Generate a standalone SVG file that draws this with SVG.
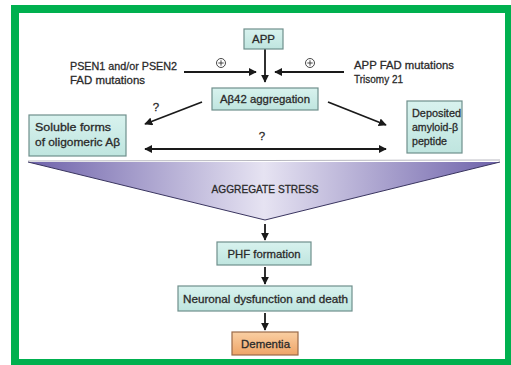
<svg xmlns="http://www.w3.org/2000/svg" width="511" height="365" viewBox="0 0 511 365">
<defs>
<style>
.box{fill:url(#teal);stroke:#6f8f8c;stroke-width:1.2}
.t{font-family:"Liberation Sans",Arial,sans-serif;font-size:11.5px;fill:#2a2a2a;stroke:#2a2a2a;stroke-width:0.3}
.c{text-anchor:middle}
.ln{stroke:#1a1a1a;stroke-width:1.8;fill:none}
.plus{fill:#fff;stroke:#333;stroke-width:0.9}
</style>
<linearGradient id="teal" x1="0" y1="0" x2="0" y2="1">
<stop offset="0" stop-color="#d8f2ee"/>
<stop offset="1" stop-color="#bfe5df"/>
</linearGradient>
<linearGradient id="orange" x1="0" y1="0" x2="0" y2="1">
<stop offset="0" stop-color="#f9cfa3"/>
<stop offset="1" stop-color="#efa467"/>
</linearGradient>
<linearGradient id="purple" x1="0" y1="0" x2="1" y2="0">
<stop offset="0" stop-color="#6e62aa"/>
<stop offset="0.5" stop-color="#e6e3f2"/>
<stop offset="1" stop-color="#6e62aa"/>
</linearGradient>
<marker id="ah" viewBox="0 0 10 10" refX="9" refY="5" markerWidth="4.5" markerHeight="4.5" orient="auto-start-reverse" markerUnits="strokeWidth">
<path d="M0,0 L10,5 L0,10 z" fill="#1a1a1a"/>
</marker>
</defs>
<rect x="0" y="0" width="511" height="365" fill="#ffffff"/>
<rect x="11" y="5" width="505" height="365" fill="#00b04f"/>
<rect x="19" y="13" width="486" height="346" fill="#ffffff"/>

<g id="stress">
<line x1="28" y1="161" x2="500" y2="160" stroke="#b8b8c0" stroke-width="1.2"/>
<path d="M28,162 L500,162 L265,220 Z" fill="url(#purple)"/>
<path d="M28,162 L265,220 L500,162" fill="none" stroke="#3a3560" stroke-width="1"/>
<text class="t c" x="265" y="193" textLength="107" lengthAdjust="spacingAndGlyphs">AGGREGATE STRESS</text>
</g>

<g id="connectors">
<line class="ln" x1="265" y1="49" x2="265" y2="82" marker-end="url(#ah)"/>
<line class="ln" x1="184" y1="72" x2="256" y2="72" marker-end="url(#ah)"/>
<line class="ln" x1="344" y1="72" x2="275" y2="72" marker-end="url(#ah)"/>
<line class="ln" x1="202" y1="102" x2="145" y2="124" marker-end="url(#ah)"/>
<line class="ln" x1="328" y1="102" x2="386" y2="125" marker-end="url(#ah)"/>
<line class="ln" x1="145" y1="149" x2="386" y2="149" marker-start="url(#ah)" marker-end="url(#ah)"/>
<line class="ln" x1="265" y1="224" x2="265" y2="240" marker-end="url(#ah)"/>
<line class="ln" x1="265" y1="267" x2="265" y2="284" marker-end="url(#ah)"/>
<line class="ln" x1="265" y1="313" x2="265" y2="330" marker-end="url(#ah)"/>
<circle class="plus" cx="221" cy="63" r="4.5"/>
<path d="M218.3,63 h5.4 M221,60.3 v5.4" stroke="#333" stroke-width="0.9"/>
<circle class="plus" cx="310" cy="63" r="4.5"/>
<path d="M307.3,63 h5.4 M310,60.3 v5.4" stroke="#333" stroke-width="0.9"/>
<text class="t c" x="156" y="111">?</text>
<text class="t c" x="262" y="140">?</text>
</g>

<g id="psen">
<text class="t" x="70" y="70" textLength="107" lengthAdjust="spacingAndGlyphs">PSEN1 and/or PSEN2</text>
<text class="t" x="70" y="84" textLength="75" lengthAdjust="spacingAndGlyphs">FAD mutations</text>
</g>
<g id="appfad">
<text class="t" x="354" y="69" textLength="100" lengthAdjust="spacingAndGlyphs">APP FAD mutations</text>
<text class="t" x="354" y="83" textLength="49" lengthAdjust="spacingAndGlyphs">Trisomy 21</text>
</g>

<g id="app">
<rect class="box" x="244" y="29" width="39" height="20"/>
<text class="t c" x="263.5" y="43" textLength="23" lengthAdjust="spacingAndGlyphs">APP</text>
</g>
<g id="abeta42">
<rect class="box" x="212" y="88" width="106" height="22"/>
<text class="t c" x="265" y="103" textLength="90" lengthAdjust="spacingAndGlyphs">Aβ42 aggregation</text>
</g>
<g id="soluble">
<rect class="box" x="29" y="115" width="97" height="41"/>
<text class="t" x="35" y="131" textLength="76" lengthAdjust="spacingAndGlyphs">Soluble forms</text>
<text class="t" x="35" y="146" textLength="85" lengthAdjust="spacingAndGlyphs">of oligomeric Aβ</text>
</g>
<g id="deposited">
<rect class="box" x="407" y="101" width="55" height="52"/>
<text class="t" x="412" y="117" textLength="49" lengthAdjust="spacingAndGlyphs">Deposited</text>
<text class="t" x="412" y="131" textLength="46" lengthAdjust="spacingAndGlyphs">amyloid-β</text>
<text class="t" x="412" y="145" textLength="35" lengthAdjust="spacingAndGlyphs">peptide</text>
</g>
<g id="phf">
<rect class="box" x="217" y="242" width="94" height="23"/>
<text class="t c" x="264" y="258" textLength="73" lengthAdjust="spacingAndGlyphs">PHF formation</text>
</g>
<g id="neuronal">
<rect class="box" x="178" y="286" width="174" height="25"/>
<text class="t c" x="265.5" y="303" textLength="165" lengthAdjust="spacingAndGlyphs">Neuronal dysfunction and death</text>
</g>
<g id="dementia">
<rect x="232" y="332" width="66" height="23" fill="url(#orange)" stroke="#9a6a48" stroke-width="1.2"/>
<text class="t c" x="265.5" y="348" textLength="49" lengthAdjust="spacingAndGlyphs">Dementia</text>
</g>
</svg>
